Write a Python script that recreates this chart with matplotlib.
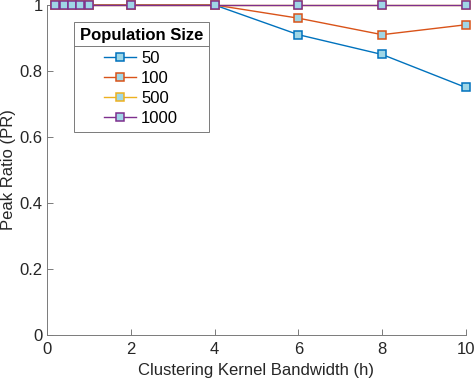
import matplotlib
matplotlib.use('Agg')
import matplotlib.pyplot as plt
from matplotlib.lines import Line2D

plt.rcParams['font.family'] = ['Liberation Sans', 'DejaVu Sans']

# data
h = [0.2, 0.4, 0.6, 0.8, 1, 2, 4, 6, 8, 10]
pr_50 = [1, 1, 1, 1, 1, 1, 1, 0.91, 0.85, 0.75]
pr_100 = [1, 1, 1, 1, 1, 1, 1, 0.96, 0.91, 0.94]
pr_500 = [1, 1, 1, 1, 1, 1, 1, 1, 1, 1]
pr_1000 = [1, 1, 1, 1, 1, 1, 1, 1, 1, 1]
sizes = ['50', '100', '500', '1000']
colors = ['#0072BD', '#D95319', '#EDB120', '#7E2F8E']

fig = plt.figure(figsize=(4.76, 3.82), dpi=100)
ax = fig.add_axes([0.0987, 0.123, 0.880, 0.864])

for y, lab, c in zip([pr_50, pr_100, pr_500, pr_1000], sizes, colors):
    ax.plot(h, y, color=c, lw=1, marker='s', ms=6, mfc='#9fd6e6',
            mec=c, mew=1.1, label=lab, clip_on=False, zorder=3)

ax.set_xlim(0, 10)
ax.set_ylim(0, 1)
ax.set_xticks([0, 2, 4, 6, 8, 10])
ax.set_yticks([0, 0.2, 0.4, 0.6, 0.8, 1])
ax.set_yticklabels(['0', '0.2', '0.4', '0.6', '0.8', '1'])
ax.set_xlabel('Clustering Kernel Bandwidth (h)', fontsize=12, color='#262626', labelpad=4)
ax.set_ylabel('Peak Ratio (PR)', fontsize=12, color='#262626', labelpad=3)

for s in ['top', 'right']:
    ax.spines[s].set_visible(False)
for s in ['left', 'bottom']:
    ax.spines[s].set_color('#7a7a7a')
    ax.spines[s].set_linewidth(0.7)
ax.tick_params(direction='in', length=4, width=0.7, color='#7a7a7a',
               labelcolor='#262626', labelsize=12, pad=3)
ax.tick_params(axis='x', pad=5)

leg = ax.legend(title='Population Size', loc='upper left',
                bbox_to_anchor=(0.064, 0.948), borderaxespad=0, fontsize=12,
                title_fontproperties={'weight': 'bold', 'size': 12},
                fancybox=False, edgecolor='#7a7a7a', framealpha=1,
                handlelength=1.9, borderpad=0.35, labelspacing=0.3,
                handletextpad=0.3)
leg.get_frame().set_linewidth(0.7)
leg._legend_box.sep = 6

# separator line under the legend title
fig.canvas.draw()
bb = leg.get_window_extent()
tb = leg.get_title().get_window_extent()
yline = (tb.y0 - 3) / fig.bbox.height
fig.add_artist(Line2D([bb.x0 / fig.bbox.width, bb.x1 / fig.bbox.width],
                      [yline, yline], color='#7a7a7a', lw=0.7))

fig.savefig('out.png', dpi=100)
